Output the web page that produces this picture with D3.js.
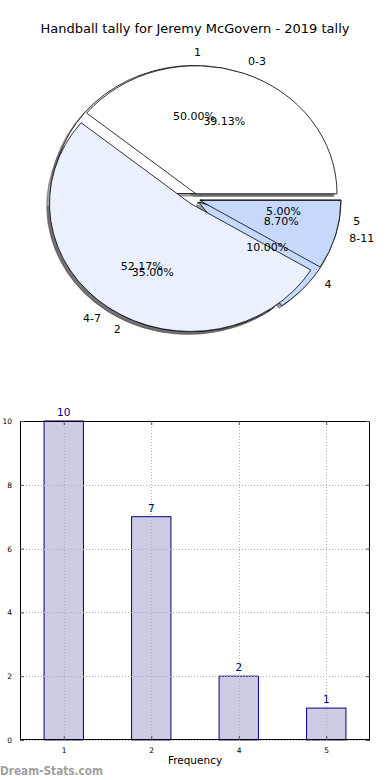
<!DOCTYPE html>
<html><head><meta charset="utf-8">
<script src="https://cdn.jsdelivr.net/npm/d3@7"></script>
<style>body{margin:0;background:#fff}svg{display:block;font-family:"DejaVu Sans",sans-serif}</style>
</head><body>
<svg id="c" width="390" height="780"></svg>
<script>
// ---- data ----
const title = "Handball tally for Jeremy McGovern - 2019 tally";
const freqCats = ["1", "2", "4", "5"];
const freqValues = [10, 7, 2, 1];
const rangeCats = ["0-3", "4-7", "8-11"];
const rangeValues = [9, 12, 2];
const yTicks = [0, 2, 4, 6, 8, 10];
const xLabel = "Frequency";
const yLabel = "Number of Games";
const watermark = "Dream-Stats.com";

const pieColors = ["#ffffff", "#ebf0fe", "#c6d9fd", "#ffffff"];

const svg = d3.select("#c");

svg.append("text").attr("x", 195).attr("y", 33).attr("text-anchor", "middle")
  .attr("font-size", 13).attr("fill", "#000").text(title);

// ---- pie geometry (elliptical, matplotlib style) ----
const cx = 194, cy = 199, rx = 141, ry = 128;
const explode = 0.043;
const shadowOff = 0.02;

const shadowLayer = svg.append("g");
const wedgeLayer = svg.append("g");
const textLayer = svg.append("g");

function drawPie(cats, values) {
  const total = d3.sum(values);
  const pie = d3.pie().sort(null).startAngle(Math.PI / 2).endAngle(Math.PI / 2 - 2 * Math.PI);
  const arcs = pie(values);
  const arc = d3.arc().innerRadius(0).outerRadius(1);
  const g = wedgeLayer.append("g");
  const texts = [];
  arcs.forEach((a, i) => {
    const dMid = (a.startAngle + a.endAngle) / 2;
    const th = Math.PI / 2 - dMid; // math angle
    const ox = cx + explode * rx * Math.cos(th);
    const oy = cy - explode * ry * Math.sin(th);
    const col = d3.color(pieColors[i % pieColors.length]);
    const sh = d3.rgb(col.r * 0.3, col.g * 0.3, col.b * 0.3);
    shadowLayer.append("path").attr("d", arc(a))
      .attr("transform", `translate(${ox - shadowOff * rx},${oy + shadowOff * ry}) scale(${rx},${ry})`)
      .attr("fill", sh).attr("fill-opacity", 0.5)
      .attr("stroke", sh).attr("stroke-opacity", 0.5).attr("stroke-width", 1)
      .attr("vector-effect", "non-scaling-stroke");
    g.append("path").attr("d", arc(a))
      .attr("transform", `translate(${ox},${oy}) scale(${rx},${ry})`)
      .attr("fill", col).attr("stroke", "#000").attr("stroke-width", 0.8)
      .attr("vector-effect", "non-scaling-stroke");
    const lx = ox + 1.1 * rx * Math.cos(th);
    const ly = oy - 1.1 * ry * Math.sin(th);
    texts.push({x: lx, y: ly, t: cats[i], anchor: Math.cos(th) > -1e-9 ? "start" : "end"});
    const px = ox + 0.6 * rx * Math.cos(th);
    const py = oy - 0.6 * ry * Math.sin(th);
    texts.push({x: px, y: py, t: d3.format(".2f")(values[i] / total * 100) + "%", anchor: "middle"});
  });
  return texts;
}
const t1 = drawPie(freqCats, freqValues);
const t2 = drawPie(rangeCats, rangeValues);
t1.concat(t2).forEach(d => {
  textLayer.append("text").attr("x", d.x).attr("y", d.y).attr("text-anchor", d.anchor)
    .attr("dominant-baseline", "central").attr("font-size", 11).attr("fill", "#000").text(d.t);
});

// ---- bar chart ----
const L = 20, R = 370, T = 421, B = 740;
const x = d3.scalePoint().domain(freqCats).range([L, R]).padding(0.5);
const y = d3.scaleLinear().domain([0, 10]).range([B, T]);
const bw = x.step() * 0.45;

const bars = svg.append("g");
bars.selectAll("rect").data(freqValues).join("rect")
  .attr("x", (d, i) => x(freqCats[i]) - bw / 2)
  .attr("y", d => y(d))
  .attr("width", bw)
  .attr("height", d => y(0) - y(d))
  .attr("fill", "#ccccE4").attr("stroke", "#000080").attr("stroke-width", 1);

// grid (on top)
const grid = svg.append("g").attr("stroke", "#b0b0b0").attr("stroke-width", 1).attr("stroke-dasharray", "1,2");
yTicks.forEach(v => grid.append("line").attr("x1", L).attr("x2", R).attr("y1", Math.round(y(v)) + 0.5).attr("y2", Math.round(y(v)) + 0.5));
freqCats.forEach(c => grid.append("line").attr("x1", Math.round(x(c)) + 0.5).attr("x2", Math.round(x(c)) + 0.5).attr("y1", T).attr("y2", B));

// value labels
svg.append("g").selectAll("text").data(freqValues).join("text")
  .attr("x", (d, i) => x(freqCats[i]))
  .attr("y", d => y(d) - 5)
  .attr("text-anchor", "middle").attr("font-size", 10.5).attr("fill", "#000080")
  .text(d => d);

// frame
svg.append("rect").attr("x", L + 0.5).attr("y", T + 0.5).attr("width", R - L - 1).attr("height", B - T - 1)
  .attr("fill", "none").attr("stroke", "#000").attr("stroke-width", 1);

// axes (ticks inward, classic style)
const yAxisL = d3.axisLeft(y).tickValues(yTicks).tickSize(-4).tickPadding(8).tickFormat(d3.format("d"));
const yAxisR = d3.axisRight(y).tickValues(yTicks).tickSize(-4).tickFormat("");
const xAxisB = d3.axisBottom(x).tickSize(-4).tickPadding(8);
const xAxisT = d3.axisTop(x).tickSize(-4).tickFormat("");
function styleAxis(g) {
  g.select(".domain").remove();
  g.selectAll(".tick line").attr("stroke", "#555");
  g.selectAll(".tick text").attr("font-size", 7.5).attr("fill", "#000").attr("font-family", "DejaVu Sans");
}
svg.append("g").attr("transform", `translate(${L},0)`).call(yAxisL).call(styleAxis);
svg.append("g").attr("transform", `translate(${R},0)`).call(yAxisR).call(styleAxis);
svg.append("g").attr("transform", `translate(0,${B})`).call(xAxisB).call(styleAxis);
svg.append("g").attr("transform", `translate(0,${T})`).call(xAxisT).call(styleAxis);

svg.append("text").attr("x", 195).attr("y", 764).attr("text-anchor", "middle")
  .attr("font-size", 10.5).attr("fill", "#000").text(xLabel);
svg.append("text").attr("transform", `translate(-2,${(T + B) / 2}) rotate(-90)`).attr("text-anchor", "middle")
  .attr("font-size", 10.5).attr("fill", "#000").text(yLabel);

svg.append("text").attr("x", 0).attr("y", 775).attr("font-size", 11.5).attr("font-weight", 600)
  .attr("textLength", 103).attr("lengthAdjust", "spacingAndGlyphs")
  .attr("fill", "#a0a0a0").text(watermark);
</script>
</body></html>
